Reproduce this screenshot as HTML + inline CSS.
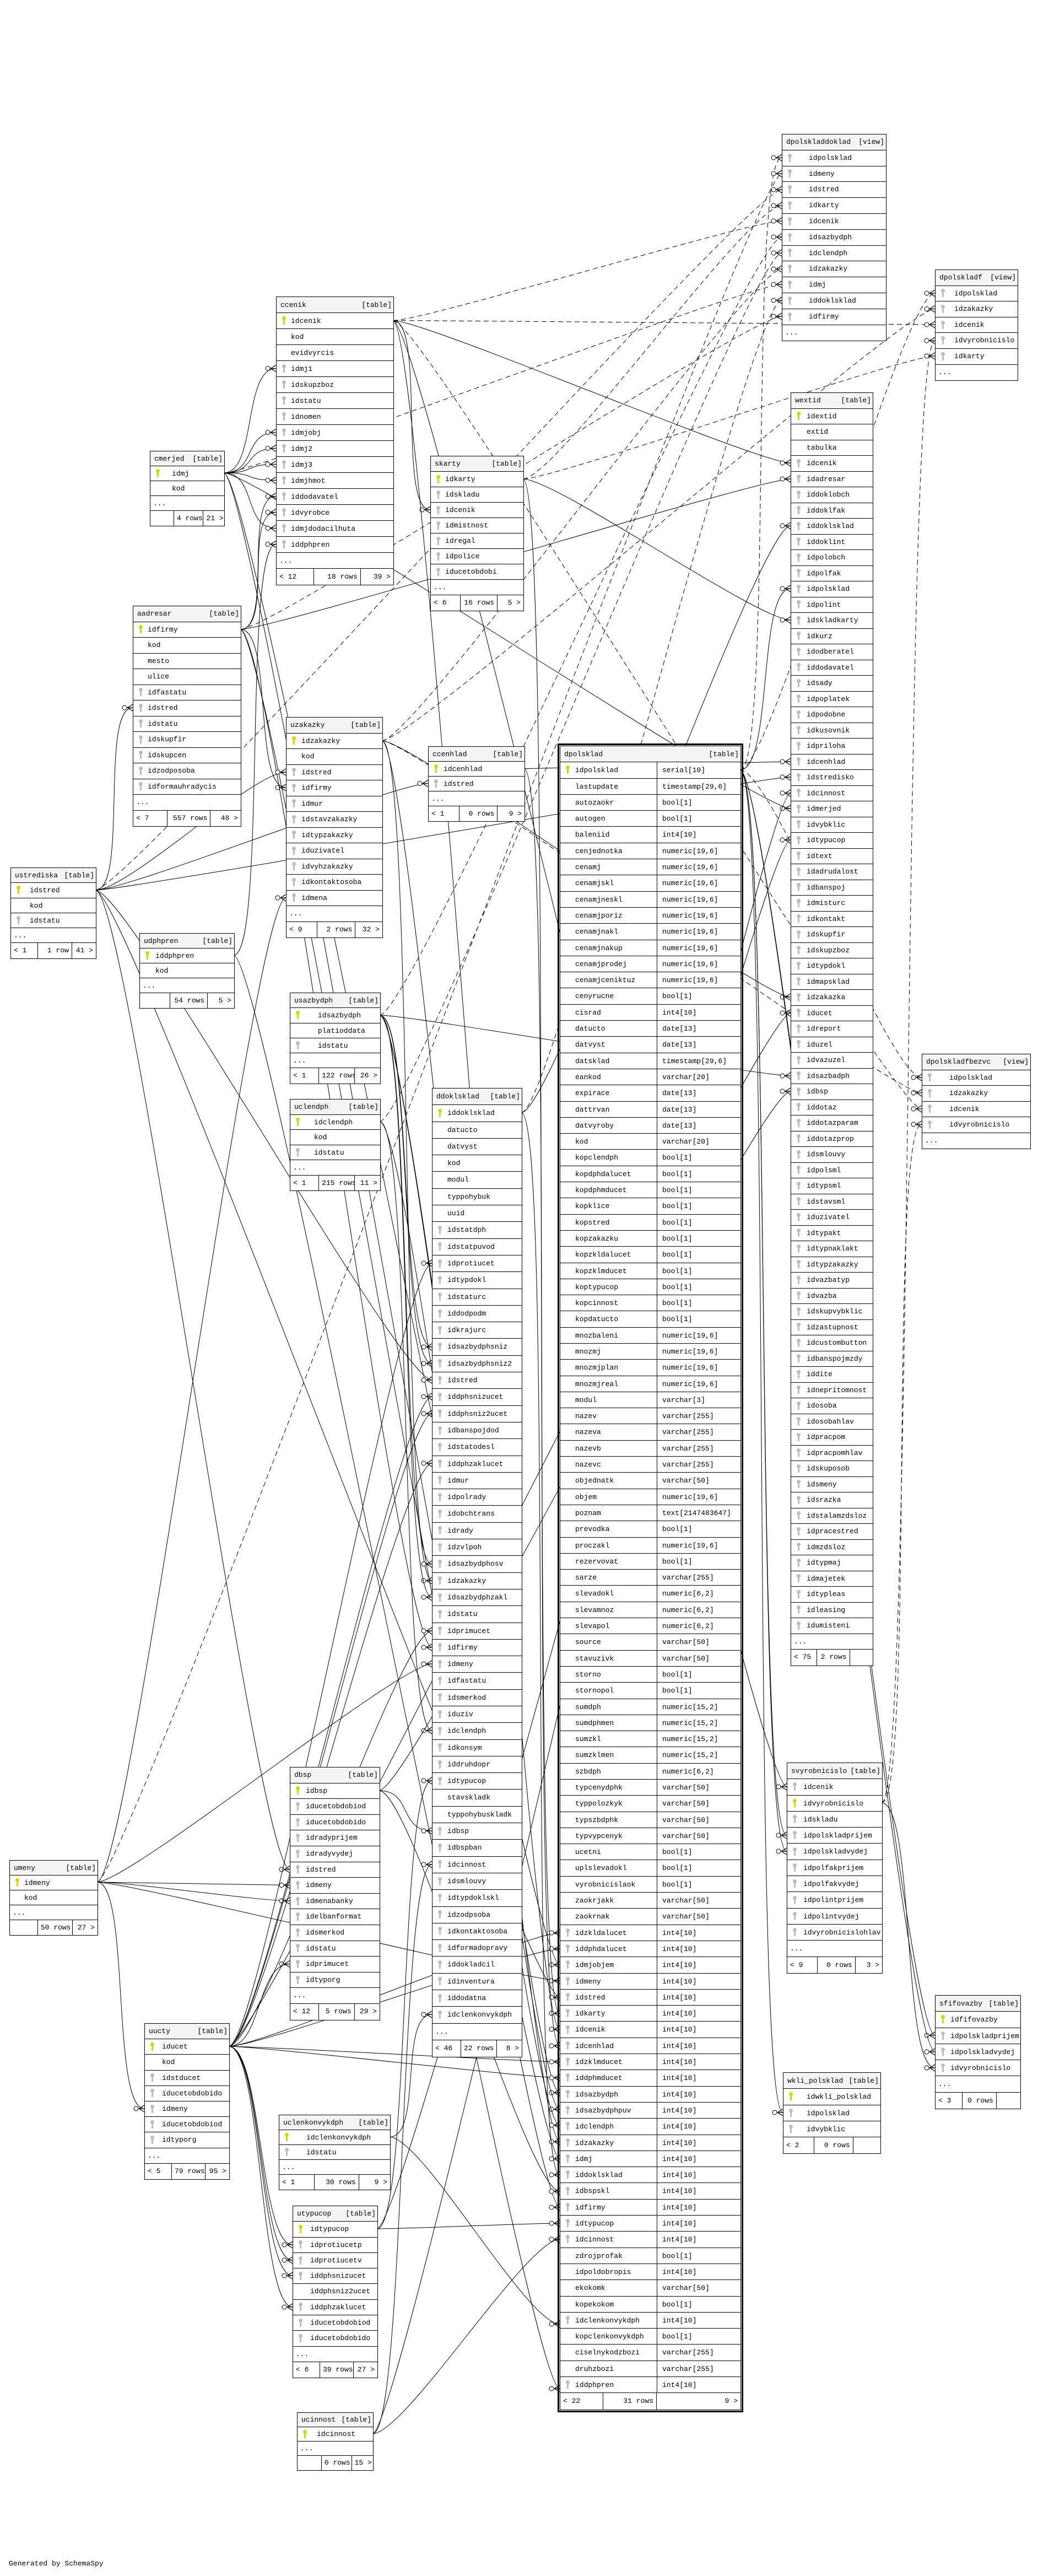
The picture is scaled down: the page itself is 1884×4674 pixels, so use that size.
<!DOCTYPE html>
<html><head><meta charset="utf-8"><style>
body{margin:0;width:1884px;height:4674px;position:relative;background:#fff;font:13px "Liberation Mono",monospace;color:#000;overflow:hidden}
svg.c{position:absolute;left:0;top:0}
.t{position:absolute;border:1px solid #000;background:#fff;box-sizing:content-box}
.t>div{height:var(--h);line-height:var(--h);border-bottom:1px solid #000;position:relative;padding-left:var(--p);white-space:nowrap;box-sizing:border-box;overflow:hidden}
.t>div:last-child{border-bottom:0}
.t>div.hd{background:#f4f4f4;padding-left:7px}
.hd b{position:absolute;right:3px;top:0;font-weight:normal}
.k{position:absolute;left:10px;top:calc(50% - 8px);width:7px;height:15px}
.k::before{content:"";position:absolute;left:0;top:0;width:7px;height:7px;border-radius:50%;background:var(--c)}
.k::after{content:"";position:absolute;left:2px;top:5px;width:3px;height:10px;background:var(--c)}
.p{--c:#d6d600}.f{--c:#bdbdbd}
.t>div.ft{padding-left:0;display:flex}
.ft span{border-right:1px solid #000;padding:0 5px;box-sizing:border-box;overflow:hidden}
.ft span:nth-child(1){width:32%}.ft span:nth-child(2){width:40%;text-align:right}.ft span:nth-child(3){flex:1;border-right:0;text-align:right}
.two s{text-decoration:none;position:absolute;left:175px;top:0;bottom:0;border-left:1px solid #000;padding-left:9px}
.dp{outline:3px solid #000;outline-offset:1px}
.dp .ft span:nth-child(1){width:78px}.dp .ft span:nth-child(2){width:97px}
.gen{position:absolute;left:16px;top:4644px}
</style></head><body>
<svg class="c" width="1884" height="4674" viewBox="0 0 1884 4674">
<defs><marker id="m" markerWidth="22" markerHeight="14" refX="21" refY="7" orient="auto" markerUnits="userSpaceOnUse"><circle cx="6" cy="7" r="4" fill="#fff" stroke="#000" stroke-width="1"/><path d="M11 7L21 1M11 7L21 7M11 7L21 13" stroke="#000" fill="none" stroke-width="1.3"/></marker></defs>
<g fill="none" stroke="#000" stroke-width="1" marker-end="url(#m)">
<path d="M406 858C466 858 441 668.5 501 668.5"/><path d="M406 858C466 858 441 784.5 501 784.5"/><path d="M406 858C466 858 441 813.5 501 813.5"/><path d="M406 858C466 858 441 842.5 501 842.5"/><path d="M406 858C466 858 441 871.5 501 871.5"/><path d="M406 858C466 858 441 958.5 501 958.5"/>
<path d="M406 858C466 858 956 3917 1016 3917"/><path d="M406 858C466 858 956 3565 1016 3565"/><path d="M406 858C466 858 1375 1467 1435 1467"/>
<path d="M436 1142C496 1142 441 900.5 501 900.5"/><path d="M436 1142C496 1142 441 929.5 501 929.5"/><path d="M436 1142C496 1142 459 1429 519 1429"/><path d="M436 1142C496 1142 724 2989 784 2989"/><path d="M436 1142C496 1142 956 4005 1016 4005"/><path d="M436 1142C496 1142 1375 869 1435 869"/>
<path d="M424 1733C484 1733 441 987.5 501 987.5"/><path d="M424 1733C484 1733 956 4334 1016 4334"/>
<path d="M713 581.5C773 581.5 721 925 781 925"/><path d="M713 581.5C773 581.5 956 3682 1016 3682"/><path d="M713 581.5C773 581.5 1375 840 1435 840"/><path d="M713 581.5C773 581.5 1368 3242 1428 3242"/>
<path d="M173 1615C233 1615 181 1284 241 1284"/><path d="M173 1615C233 1615 459 1401 519 1401"/><path d="M173 1615C233 1615 717 1421.5 777 1421.5"/><path d="M173 1615C233 1615 466 3392 526 3392"/><path d="M173 1615C233 1615 724 2504 784 2504"/><path d="M173 1615C233 1615 956 3624 1016 3624"/><path d="M173 1615C233 1615 1375 1410 1435 1410"/>
<path d="M176 3415C236 3415 466 3420.5 526 3420.5"/><path d="M176 3415C236 3415 466 3449 526 3449"/><path d="M176 3415C236 3415 202 3826 262 3826"/><path d="M176 3415C236 3415 724 3019 784 3019"/><path d="M176 3415C236 3415 956 3594 1016 3594"/><path d="M176 3415C236 3415 459 1629 519 1629"/>
<path d="M693 1344C753 1344 724 2868 784 2868"/><path d="M693 1344C753 1344 956 3886 1016 3886"/><path d="M693 1344C753 1344 1375 1809 1435 1809"/>
<path d="M689 1842C749 1842 724 2444 784 2444"/><path d="M689 1842C749 1842 724 2474 784 2474"/><path d="M689 1842C749 1842 724 2838 784 2838"/><path d="M689 1842C749 1842 724 2898 784 2898"/><path d="M689 1842C749 1842 956 3797 1016 3797"/><path d="M689 1842C749 1842 956 3827 1016 3827"/><path d="M689 1842C749 1842 1375 1952 1435 1952"/>
<path d="M689 2035C749 2035 724 3140 784 3140"/><path d="M689 2035C749 2035 956 3856 1016 3856"/>
<path d="M415 3713C475 3713 724 2292 784 2292"/><path d="M415 3713C475 3713 724 2534 784 2534"/><path d="M415 3713C475 3713 724 2565 784 2565"/><path d="M415 3713C475 3713 724 2655 784 2655"/><path d="M415 3713C475 3713 724 2959 784 2959"/><path d="M415 3713C475 3713 956 3507 1016 3507"/><path d="M415 3713C475 3713 956 3536 1016 3536"/><path d="M415 3713C475 3713 956 3741 1016 3741"/><path d="M415 3713C475 3713 956 3770 1016 3770"/><path d="M415 3713C475 3713 466 3563.5 526 3563.5"/><path d="M415 3713C475 3713 471 4073 531 4073"/><path d="M415 3713C475 3713 471 4101 531 4101"/><path d="M415 3713C475 3713 471 4129 531 4129"/><path d="M415 3713C475 3713 471 4186 531 4186"/><path d="M415 3713C475 3713 1375 1838 1435 1838"/>
<path d="M684 4044C744 4044 724 3231 784 3231"/><path d="M684 4044C744 4044 956 4034 1016 4034"/><path d="M684 4044C744 4044 1375 1524 1435 1524"/>
<path d="M676 4416C736 4416 724 3383 784 3383"/><path d="M676 4416C736 4416 956 4063 1016 4063"/><path d="M676 4416C736 4416 1375 1439 1435 1439"/>
<path d="M688 3249C748 3249 724 3322 784 3322"/><path d="M688 3249C748 3249 956 3976 1016 3976"/><path d="M688 3249C748 3249 1375 1980 1435 1980"/>
<path d="M707 3877.5C767 3877.5 724 3655 784 3655"/><path d="M707 3877.5C767 3877.5 956 4217 1016 4217"/>
<path d="M946 2019C1006 2019 956 3946 1016 3946"/><path d="M946 2019C1006 2019 1375 954 1435 954"/>
<path d="M949 869C1009 869 956 3653 1016 3653"/><path d="M949 869C1009 869 1375 1125 1435 1125"/>
<path d="M951 1394.5C1011 1394.5 956 3712 1016 3712"/><path d="M951 1394.5C1011 1394.5 1375 1382 1435 1382"/>
<path d="M1343 1397C1403 1397 1375 1068 1435 1068"/><path d="M1343 1397C1403 1397 1368 3330 1428 3330"/><path d="M1343 1397C1403 1397 1368 3359 1428 3359"/><path d="M1343 1397C1403 1397 1637 3693 1697 3693"/><path d="M1343 1397C1403 1397 1637 3723 1697 3723"/><path d="M1343 1397C1403 1397 1361 3833 1421 3833"/>
<path d="M1600 3271C1660 3271 1637 3752 1697 3752"/>
</g>
<g fill="none" stroke="#000" stroke-width="1" stroke-dasharray="9,6" marker-end="url(#m)">
<path d="M1343 1397C1403 1397 1359 286 1419 286"/><path d="M1343 1397C1403 1397 1637 532 1697 532"/><path d="M1343 1397C1403 1397 1613 1955 1673 1955"/>
<path d="M176 3415C236 3415 1359 315 1419 315"/><path d="M173 1615C233 1615 1359 344 1419 344"/><path d="M949 869C1009 869 1359 373 1419 373"/>
<path d="M713 581.5C773 581.5 1359 401 1419 401"/><path d="M713 581.5C773 581.5 1637 589 1697 589"/><path d="M713 581.5C773 581.5 1613 2012 1673 2012"/>
<path d="M689 1842C749 1842 1359 430 1419 430"/><path d="M689 2035C749 2035 1359 459 1419 459"/>
<path d="M693 1344C753 1344 1359 488 1419 488"/><path d="M693 1344C753 1344 1637 560.5 1697 560.5"/><path d="M693 1344C753 1344 1613 1983 1673 1983"/>
<path d="M406 858C466 858 1359 516 1419 516"/><path d="M946 2019C1006 2019 1359 545 1419 545"/><path d="M436 1142C496 1142 1359 574 1419 574"/>
<path d="M1600 3271C1660 3271 1637 618 1697 618"/><path d="M1600 3271C1660 3271 1613 2040 1673 2040"/><path d="M949 869C1009 869 1637 646 1697 646"/>
</g></svg>

<div class="t" style="left:1419px;top:243px;width:188px;--h:28.8px;--p:48px"><div class="hd">dpolskladdoklad<b>[view]</b></div><div><i class="k f"></i>idpolsklad</div><div><i class="k f"></i>idmeny</div><div><i class="k f"></i>idstred</div><div><i class="k f"></i>idkarty</div><div><i class="k f"></i>idcenik</div><div><i class="k f"></i>idsazbydph</div><div><i class="k f"></i>idclendph</div><div><i class="k f"></i>idzakazky</div><div><i class="k f"></i>idmj</div><div><i class="k f"></i>iddoklsklad</div><div><i class="k f"></i>idfirmy</div><div style="padding-left:5px">...</div></div>

<div class="t" style="left:1697px;top:489px;width:149px;--h:28.6px;--p:34px"><div class="hd">dpolskladf<b>[view]</b></div><div><i class="k f"></i>idpolsklad</div><div><i class="k f"></i>idzakazky</div><div><i class="k f"></i>idcenik</div><div><i class="k f"></i>idvyrobnicislo</div><div><i class="k f"></i>idkarty</div><div style="padding-left:5px">...</div></div>

<div class="t" style="left:501px;top:538px;width:212px;--h:29px;--p:26px"><div class="hd">ccenik<b>[table]</b></div><div><i class="k p"></i>idcenik</div><div>kod</div><div>evidvyrcis</div><div><i class="k f"></i>idmj1</div><div><i class="k f"></i>idskupzboz</div><div><i class="k f"></i>idstatu</div><div><i class="k f"></i>idnomen</div><div><i class="k f"></i>idmjobj</div><div><i class="k f"></i>idmj2</div><div><i class="k f"></i>idmj3</div><div><i class="k f"></i>idmjhmot</div><div><i class="k f"></i>iddodavatel</div><div><i class="k f"></i>idvyrobce</div><div><i class="k f"></i>idmjdodacilhuta</div><div><i class="k f"></i>iddphpren</div><div style="padding-left:5px">...</div><div class="ft"><span>&lt; 12</span><span>18 rows</span><span>39 &gt;</span></div></div>

<div class="t" style="left:272px;top:818px;width:134px;--h:27px;--p:39px"><div class="hd">cmerjed<b>[table]</b></div><div><i class="k p"></i>idmj</div><div>kod</div><div style="padding-left:5px">...</div><div class="ft"><span></span><span>4 rows</span><span>21 &gt;</span></div></div>

<div class="t" style="left:781px;top:827px;width:168px;--h:28px;--p:26px"><div class="hd">skarty<b>[table]</b></div><div><i class="k p"></i>idkarty</div><div><i class="k f"></i>idskladu</div><div><i class="k f"></i>idcenik</div><div><i class="k f"></i>idmistnost</div><div><i class="k f"></i>idregal</div><div><i class="k f"></i>idpolice</div><div><i class="k f"></i>iducetobdobi</div><div style="padding-left:5px">...</div><div class="ft"><span>&lt; 6</span><span>16 rows</span><span>5 &gt;</span></div></div>

<div class="t" style="left:241px;top:1099px;width:195px;--h:28.5px;--p:26px"><div class="hd">aadresar<b>[table]</b></div><div><i class="k p"></i>idfirmy</div><div>kod</div><div>mesto</div><div>ulice</div><div><i class="k f"></i>idfastatu</div><div><i class="k f"></i>idstred</div><div><i class="k f"></i>idstatu</div><div><i class="k f"></i>idskupfir</div><div><i class="k f"></i>idskupcen</div><div><i class="k f"></i>idzodposoba</div><div><i class="k f"></i>idformauhradycis</div><div style="padding-left:5px">...</div><div class="ft"><span>&lt; 7</span><span>557 rows</span><span>48 &gt;</span></div></div>

<div class="t" style="left:19px;top:1574px;width:154px;--h:27.3px;--p:34px"><div class="hd">ustrediska<b>[table]</b></div><div><i class="k p"></i>idstred</div><div>kod</div><div><i class="k f"></i>idstatu</div><div style="padding-left:5px">...</div><div class="ft"><span>&lt; 1</span><span>1 row</span><span>41 &gt;</span></div></div>

<div class="t" style="left:519px;top:1301px;width:174px;--h:28.5px;--p:27px"><div class="hd">uzakazky<b>[table]</b></div><div><i class="k p"></i>idzakazky</div><div>kod</div><div><i class="k f"></i>idstred</div><div><i class="k f"></i>idfirmy</div><div><i class="k f"></i>idmur</div><div><i class="k f"></i>idstavzakazky</div><div><i class="k f"></i>idtypzakazky</div><div><i class="k f"></i>iduzivatel</div><div><i class="k f"></i>idvyhzakazky</div><div><i class="k f"></i>idkontaktosoba</div><div><i class="k f"></i>idmena</div><div style="padding-left:5px">...</div><div class="ft"><span>&lt; 9</span><span>2 rows</span><span>32 &gt;</span></div></div>

<div class="t" style="left:777px;top:1354px;width:174px;--h:27px;--p:27px"><div class="hd">ccenhlad<b>[table]</b></div><div><i class="k p"></i>idcenhlad</div><div><i class="k f"></i>idstred</div><div style="padding-left:5px">...</div><div class="ft"><span>&lt; 1</span><span>0 rows</span><span>9 &gt;</span></div></div>

<div class="t" style="left:253px;top:1693px;width:171px;--h:27px;--p:28px"><div class="hd">udphpren<b>[table]</b></div><div><i class="k p"></i>iddphpren</div><div>kod</div><div style="padding-left:5px">...</div><div class="ft"><span></span><span>54 rows</span><span>5 &gt;</span></div></div>

<div class="t" style="left:526px;top:1801px;width:163px;--h:27.3px;--p:50px"><div class="hd">usazbydph<b>[table]</b></div><div><i class="k p"></i>idsazbydph</div><div>platioddata</div><div><i class="k f"></i>idstatu</div><div style="padding-left:5px">...</div><div class="ft"><span>&lt; 1</span><span>122 rows</span><span>26 &gt;</span></div></div>

<div class="t" style="left:526px;top:1994px;width:163px;--h:27.5px;--p:43px"><div class="hd">uclendph<b>[table]</b></div><div><i class="k p"></i>idclendph</div><div>kod</div><div><i class="k f"></i>idstatu</div><div style="padding-left:5px">...</div><div class="ft"><span>&lt; 1</span><span>215 rows</span><span>11 &gt;</span></div></div>

<div class="t" style="left:784px;top:1974px;width:162px;--h:30.3px;--p:27px"><div class="hd">ddoklsklad<b>[table]</b></div><div><i class="k p"></i>iddoklsklad</div><div>datucto</div><div>datvyst</div><div>kod</div><div>modul</div><div>typpohybuk</div><div>uuid</div><div><i class="k f"></i>idstatdph</div><div><i class="k f"></i>idstatpuvod</div><div><i class="k f"></i>idprotiucet</div><div><i class="k f"></i>idtypdokl</div><div><i class="k f"></i>idstaturc</div><div><i class="k f"></i>iddodpodm</div><div><i class="k f"></i>idkrajurc</div><div><i class="k f"></i>idsazbydphsniz</div><div><i class="k f"></i>idsazbydphsniz2</div><div><i class="k f"></i>idstred</div><div><i class="k f"></i>iddphsnizucet</div><div><i class="k f"></i>iddphsniz2ucet</div><div><i class="k f"></i>idbanspojdod</div><div><i class="k f"></i>idstatodesl</div><div><i class="k f"></i>iddphzaklucet</div><div><i class="k f"></i>idmur</div><div><i class="k f"></i>idpolrady</div><div><i class="k f"></i>idobchtrans</div><div><i class="k f"></i>idrady</div><div><i class="k f"></i>idzvlpoh</div><div><i class="k f"></i>idsazbydphosv</div><div><i class="k f"></i>idzakazky</div><div><i class="k f"></i>idsazbydphzakl</div><div><i class="k f"></i>idstatu</div><div><i class="k f"></i>idprimucet</div><div><i class="k f"></i>idfirmy</div><div><i class="k f"></i>idmeny</div><div><i class="k f"></i>idfastatu</div><div><i class="k f"></i>idsmerkod</div><div><i class="k f"></i>iduziv</div><div><i class="k f"></i>idclendph</div><div><i class="k f"></i>idkonsym</div><div><i class="k f"></i>iddruhdopr</div><div><i class="k f"></i>idtypucop</div><div>stavskladk</div><div>typpohybuskladk</div><div><i class="k f"></i>idbsp</div><div><i class="k f"></i>idbspban</div><div><i class="k f"></i>idcinnost</div><div><i class="k f"></i>idsmlouvy</div><div><i class="k f"></i>idtypdoklskl</div><div><i class="k f"></i>idzodpsoba</div><div><i class="k f"></i>idkontaktosoba</div><div><i class="k f"></i>idformadopravy</div><div><i class="k f"></i>iddokladcil</div><div><i class="k f"></i>idinventura</div><div><i class="k f"></i>iddodatna</div><div><i class="k f"></i>idclenkonvykdph</div><div style="padding-left:5px">...</div><div class="ft"><span>&lt; 46</span><span>22 rows</span><span>8 &gt;</span></div></div>

<div class="t" style="left:526px;top:3206px;width:162px;--h:28.6px;--p:28px"><div class="hd">dbsp<b>[table]</b></div><div><i class="k p"></i>idbsp</div><div><i class="k f"></i>iducetobdobiod</div><div><i class="k f"></i>iducetobdobido</div><div><i class="k f"></i>idradyprijem</div><div><i class="k f"></i>idradyvydej</div><div><i class="k f"></i>idstred</div><div><i class="k f"></i>idmeny</div><div><i class="k f"></i>idmenabanky</div><div><i class="k f"></i>idelbanformat</div><div><i class="k f"></i>idsmerkod</div><div><i class="k f"></i>idstatu</div><div><i class="k f"></i>idprimucet</div><div><i class="k f"></i>idtyporg</div><div style="padding-left:5px">...</div><div class="ft"><span>&lt; 12</span><span>5 rows</span><span>29 &gt;</span></div></div>

<div class="t" style="left:17px;top:3375px;width:159px;--h:27px;--p:26px"><div class="hd">umeny<b>[table]</b></div><div><i class="k p"></i>idmeny</div><div>kod</div><div style="padding-left:5px">...</div><div class="ft"><span></span><span>50 rows</span><span>27 &gt;</span></div></div>

<div class="t" style="left:262px;top:3671px;width:153px;--h:28.2px;--p:31px"><div class="hd">uucty<b>[table]</b></div><div><i class="k p"></i>iducet</div><div>kod</div><div><i class="k f"></i>idstducet</div><div><i class="k f"></i>iducetobdobido</div><div><i class="k f"></i>idmeny</div><div><i class="k f"></i>iducetobdobiod</div><div><i class="k f"></i>idtyporg</div><div style="padding-left:5px">...</div><div class="ft"><span>&lt; 5</span><span>79 rows</span><span>95 &gt;</span></div></div>

<div class="t" style="left:506px;top:3837px;width:201px;--h:27px;--p:49px"><div class="hd">uclenkonvykdph<b>[table]</b></div><div><i class="k p"></i>idclenkonvykdph</div><div><i class="k f"></i>idstatu</div><div style="padding-left:5px">...</div><div class="ft"><span>&lt; 1</span><span>30 rows</span><span>9 &gt;</span></div></div>

<div class="t" style="left:531px;top:4002px;width:153px;--h:28.3px;--p:31px"><div class="hd">utypucop<b>[table]</b></div><div><i class="k p"></i>idtypucop</div><div><i class="k f"></i>idprotiucetp</div><div><i class="k f"></i>idprotiucetv</div><div><i class="k f"></i>iddphsnizucet</div><div>iddphsniz2ucet</div><div><i class="k f"></i>iddphzaklucet</div><div><i class="k f"></i>iducetobdobiod</div><div><i class="k f"></i>iducetobdobido</div><div style="padding-left:5px">...</div><div class="ft"><span>&lt; 6</span><span>39 rows</span><span>27 &gt;</span></div></div>

<div class="t" style="left:539px;top:4377px;width:137px;--h:26px;--p:35px"><div class="hd">ucinnost<b>[table]</b></div><div><i class="k p"></i>idcinnost</div><div style="padding-left:5px">...</div><div class="ft"><span></span><span>0 rows</span><span>15 &gt;</span></div></div>

<div class="t two dp" style="left:1016px;top:1353px;width:327px;--h:29.3px;--p:27px"><div class="hd">dpolsklad<b>[table]</b></div>
<div><i class="k p"></i>idpolsklad<s>serial[10]</s></div><div>lastupdate<s>timestamp[29,6]</s></div><div>autozaokr<s>bool[1]</s></div><div>autogen<s>bool[1]</s></div><div>baleniid<s>int4[10]</s></div><div>cenjednotka<s>numeric[19,6]</s></div><div>cenamj<s>numeric[19,6]</s></div><div>cenamjskl<s>numeric[19,6]</s></div><div>cenamjneskl<s>numeric[19,6]</s></div><div>cenamjporiz<s>numeric[19,6]</s></div><div>cenamjnakl<s>numeric[19,6]</s></div><div>cenamjnakup<s>numeric[19,6]</s></div><div>cenamjprodej<s>numeric[19,6]</s></div><div>cenamjceniktuz<s>numeric[19,6]</s></div><div>cenyrucne<s>bool[1]</s></div><div>cisrad<s>int4[10]</s></div><div>datucto<s>date[13]</s></div><div>datvyst<s>date[13]</s></div><div>datsklad<s>timestamp[29,6]</s></div><div>eankod<s>varchar[20]</s></div><div>expirace<s>date[13]</s></div><div>dattrvan<s>date[13]</s></div><div>datvyroby<s>date[13]</s></div><div>kod<s>varchar[20]</s></div><div>kopclendph<s>bool[1]</s></div><div>kopdphdalucet<s>bool[1]</s></div><div>kopdphmducet<s>bool[1]</s></div><div>kopklice<s>bool[1]</s></div><div>kopstred<s>bool[1]</s></div><div>kopzakazku<s>bool[1]</s></div><div>kopzkldalucet<s>bool[1]</s></div><div>kopzklmducet<s>bool[1]</s></div><div>koptypucop<s>bool[1]</s></div><div>kopcinnost<s>bool[1]</s></div><div>kopdatucto<s>bool[1]</s></div><div>mnozbaleni<s>numeric[19,6]</s></div><div>mnozmj<s>numeric[19,6]</s></div><div>mnozmjplan<s>numeric[19,6]</s></div><div>mnozmjreal<s>numeric[19,6]</s></div><div>modul<s>varchar[3]</s></div><div>nazev<s>varchar[255]</s></div><div>nazeva<s>varchar[255]</s></div><div>nazevb<s>varchar[255]</s></div><div>nazevc<s>varchar[255]</s></div><div>objednatk<s>varchar[50]</s></div><div>objem<s>numeric[19,6]</s></div><div>poznam<s>text[2147483647]</s></div><div>prevodka<s>bool[1]</s></div><div>proczakl<s>numeric[19,6]</s></div><div>rezervovat<s>bool[1]</s></div><div>sarze<s>varchar[255]</s></div><div>slevadokl<s>numeric[6,2]</s></div><div>slevamnoz<s>numeric[6,2]</s></div><div>slevapol<s>numeric[6,2]</s></div><div>source<s>varchar[50]</s></div><div>stavuzivk<s>varchar[50]</s></div><div>storno<s>bool[1]</s></div><div>stornopol<s>bool[1]</s></div><div>sumdph<s>numeric[15,2]</s></div><div>sumdphmen<s>numeric[15,2]</s></div><div>sumzkl<s>numeric[15,2]</s></div><div>sumzklmen<s>numeric[15,2]</s></div><div>szbdph<s>numeric[6,2]</s></div><div>typcenydphk<s>varchar[50]</s></div><div>typpolozkyk<s>varchar[50]</s></div><div>typszbdphk<s>varchar[50]</s></div><div>typvypcenyk<s>varchar[50]</s></div><div>ucetni<s>bool[1]</s></div><div>uplslevadokl<s>bool[1]</s></div><div>vyrobnicislaok<s>bool[1]</s></div><div>zaokrjakk<s>varchar[50]</s></div><div>zaokrnak<s>varchar[50]</s></div>
<div><i class="k f"></i>idzkldalucet<s>int4[10]</s></div><div><i class="k f"></i>iddphdalucet<s>int4[10]</s></div><div><i class="k f"></i>idmjobjem<s>int4[10]</s></div><div><i class="k f"></i>idmeny<s>int4[10]</s></div><div><i class="k f"></i>idstred<s>int4[10]</s></div><div><i class="k f"></i>idkarty<s>int4[10]</s></div><div><i class="k f"></i>idcenik<s>int4[10]</s></div><div><i class="k f"></i>idcenhlad<s>int4[10]</s></div><div><i class="k f"></i>idzklmducet<s>int4[10]</s></div><div><i class="k f"></i>iddphmducet<s>int4[10]</s></div><div><i class="k f"></i>idsazbydph<s>int4[10]</s></div><div><i class="k f"></i>idsazbydphpuv<s>int4[10]</s></div><div><i class="k f"></i>idclendph<s>int4[10]</s></div><div><i class="k f"></i>idzakazky<s>int4[10]</s></div><div><i class="k f"></i>idmj<s>int4[10]</s></div><div><i class="k f"></i>iddoklsklad<s>int4[10]</s></div><div><i class="k f"></i>idbspskl<s>int4[10]</s></div><div><i class="k f"></i>idfirmy<s>int4[10]</s></div><div><i class="k f"></i>idtypucop<s>int4[10]</s></div><div><i class="k f"></i>idcinnost<s>int4[10]</s></div><div>zdrojprofak<s>bool[1]</s></div><div>idpoldobropis<s>int4[10]</s></div><div>ekokomk<s>varchar[50]</s></div><div>kopekokom<s>bool[1]</s></div><div><i class="k f"></i>idclenkonvykdph<s>int4[10]</s></div><div>kopclenkonvykdph<s>bool[1]</s></div><div>ciselnykodzbozi<s>varchar[255]</s></div><div>druhzbozi<s>varchar[255]</s></div><div><i class="k f"></i>iddphpren<s>int4[10]</s></div>
<div class="ft"><span>&lt; 22</span><span>31 rows</span><span>9 &gt;</span></div></div>

<div class="t" style="left:1435px;top:712px;width:148px;--h:28.5px;--p:28px"><div class="hd">wextid<b>[table]</b></div><div><i class="k p"></i>idextid</div><div>extid</div><div>tabulka</div><div><i class="k f"></i>idcenik</div><div><i class="k f"></i>idadresar</div><div><i class="k f"></i>iddoklobch</div><div><i class="k f"></i>iddoklfak</div><div><i class="k f"></i>iddoklsklad</div><div><i class="k f"></i>iddoklint</div><div><i class="k f"></i>idpolobch</div><div><i class="k f"></i>idpolfak</div><div><i class="k f"></i>idpolsklad</div><div><i class="k f"></i>idpolint</div><div><i class="k f"></i>idskladkarty</div><div><i class="k f"></i>idkurz</div><div><i class="k f"></i>idodberatel</div><div><i class="k f"></i>iddodavatel</div><div><i class="k f"></i>idsady</div><div><i class="k f"></i>idpoplatek</div><div><i class="k f"></i>idpodobne</div><div><i class="k f"></i>idkusovnik</div><div><i class="k f"></i>idpriloha</div><div><i class="k f"></i>idcenhlad</div><div><i class="k f"></i>idstredisko</div><div><i class="k f"></i>idcinnost</div><div><i class="k f"></i>idmerjed</div><div><i class="k f"></i>idvybklic</div><div><i class="k f"></i>idtypucop</div><div><i class="k f"></i>idtext</div><div><i class="k f"></i>idadrudalost</div><div><i class="k f"></i>idbanspoj</div><div><i class="k f"></i>idmisturc</div><div><i class="k f"></i>idkontakt</div><div><i class="k f"></i>idskupfir</div><div><i class="k f"></i>idskupzboz</div><div><i class="k f"></i>idtypdokl</div><div><i class="k f"></i>idmapsklad</div><div><i class="k f"></i>idzakazka</div><div><i class="k f"></i>iducet</div><div><i class="k f"></i>idreport</div><div><i class="k f"></i>iduzel</div><div><i class="k f"></i>idvazuzel</div><div><i class="k f"></i>idsazbadph</div><div><i class="k f"></i>idbsp</div><div><i class="k f"></i>iddotaz</div><div><i class="k f"></i>iddotazparam</div><div><i class="k f"></i>iddotazprop</div><div><i class="k f"></i>idsmlouvy</div><div><i class="k f"></i>idpolsml</div><div><i class="k f"></i>idtypsml</div><div><i class="k f"></i>idstavsml</div><div><i class="k f"></i>iduzivatel</div><div><i class="k f"></i>idtypakt</div><div><i class="k f"></i>idtypnaklakt</div><div><i class="k f"></i>idtypzakazky</div><div><i class="k f"></i>idvazbatyp</div><div><i class="k f"></i>idvazba</div><div><i class="k f"></i>idskupvybklic</div><div><i class="k f"></i>idzastupnost</div><div><i class="k f"></i>idcustombutton</div><div><i class="k f"></i>idbanspojmzdy</div><div><i class="k f"></i>iddite</div><div><i class="k f"></i>idnepritomnost</div><div><i class="k f"></i>idosoba</div><div><i class="k f"></i>idosobahlav</div><div><i class="k f"></i>idpracpom</div><div><i class="k f"></i>idpracpomhlav</div><div><i class="k f"></i>idskuposob</div><div><i class="k f"></i>idsmeny</div><div><i class="k f"></i>idsrazka</div><div><i class="k f"></i>idstalamzdsloz</div><div><i class="k f"></i>idpracestred</div><div><i class="k f"></i>idmzdsloz</div><div><i class="k f"></i>idtypmaj</div><div><i class="k f"></i>idmajetek</div><div><i class="k f"></i>idtypleas</div><div><i class="k f"></i>idleasing</div><div><i class="k f"></i>idumisteni</div><div style="padding-left:5px">...</div><div class="ft"><span>&lt; 75</span><span>2 rows</span><span></span></div></div>

<div class="t" style="left:1673px;top:1912px;width:196px;--h:28.5px;--p:49px"><div class="hd">dpolskladfbezvc<b>[view]</b></div><div><i class="k f"></i>idpolsklad</div><div><i class="k f"></i>idzakazky</div><div><i class="k f"></i>idcenik</div><div><i class="k f"></i>idvyrobnicislo</div><div style="padding-left:5px">...</div></div>

<div class="t" style="left:1428px;top:3198px;width:172px;--h:29.3px;--p:29px"><div class="hd">svyrobnicislo<b>[table]</b></div><div><i class="k f"></i>idcenik</div><div><i class="k p"></i>idvyrobnicislo</div><div><i class="k f"></i>idskladu</div><div><i class="k f"></i>idpolskladprijem</div><div><i class="k f"></i>idpolskladvydej</div><div><i class="k f"></i>idpolfakprijem</div><div><i class="k f"></i>idpolfakvydej</div><div><i class="k f"></i>idpolintprijem</div><div><i class="k f"></i>idpolintvydej</div><div><i class="k f"></i>idvyrobnicislohlav</div><div style="padding-left:5px">...</div><div class="ft"><span>&lt; 9</span><span>0 rows</span><span>3 &gt;</span></div></div>

<div class="t" style="left:1697px;top:3620px;width:154px;--h:29.3px;--p:27px"><div class="hd">sfifovazby<b>[table]</b></div><div><i class="k p"></i>idfifovazby</div><div><i class="k f"></i>idpolskladprijem</div><div><i class="k f"></i>idpolskladvydej</div><div><i class="k f"></i>idvyrobnicislo</div><div style="padding-left:5px">...</div><div class="ft"><span>&lt; 3</span><span>0 rows</span><span></span></div></div>

<div class="t" style="left:1421px;top:3760px;width:176px;--h:29.3px;--p:42px"><div class="hd">wkli_polsklad<b>[table]</b></div><div><i class="k p"></i>idwkli_polsklad</div><div><i class="k f"></i>idpolsklad</div><div><i class="k f"></i>idvybklic</div><div class="ft"><span>&lt; 2</span><span>0 rows</span><span></span></div></div>

<div class="gen">Generated by SchemaSpy</div>
</body></html>
